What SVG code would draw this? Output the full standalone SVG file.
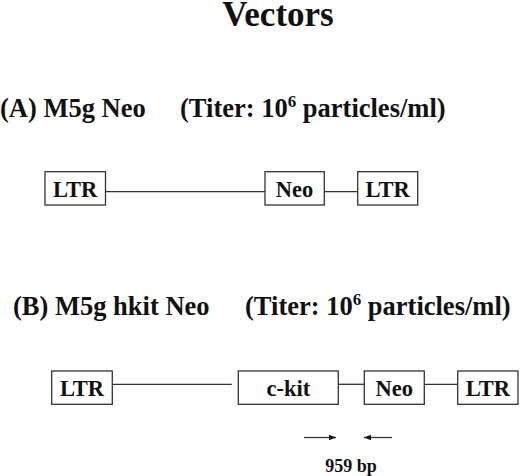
<svg xmlns="http://www.w3.org/2000/svg" width="520" height="476" viewBox="0 0 520 476">
<style>
text{font-family:"Liberation Serif","Times New Roman",serif;font-weight:bold;fill:#111}
.box{fill:#fff;stroke:#333;stroke-width:1.3}
.ln{stroke:#333;stroke-width:1.3;fill:none}
.lbl{font-size:22.5px;text-anchor:middle}
.hd{font-size:26.5px}
</style>
<defs>
<marker id="ah" viewBox="0 0 10 10" refX="10" refY="5" markerWidth="7" markerHeight="7" markerUnits="userSpaceOnUse" orient="auto">
<path d="M0,1 L10,5 L0,9 z" fill="#111"/>
</marker>
</defs>
<text x="278" y="26" font-size="35" text-anchor="middle">Vectors</text>
<text class="hd" x="0" y="117">(A) M5g Neo</text>
<text class="hd" x="180" y="117">(Titer: 10<tspan font-size="17" dy="-10">6</tspan><tspan dy="10"> particles/ml)</tspan></text>
<text class="hd" x="13" y="315">(B) M5g hkit Neo</text>
<text class="hd" x="245" y="315">(Titer: 10<tspan font-size="17" dy="-10">6</tspan><tspan dy="10"> particles/ml)</tspan></text>
<g id="connectors">
<line class="ln" x1="106" y1="191.7" x2="265" y2="191.7"/>
<line class="ln" x1="324" y1="191.7" x2="358" y2="191.7"/>
<line class="ln" x1="112" y1="384.3" x2="231.7" y2="384.3"/>
<line class="ln" x1="338" y1="384.3" x2="364" y2="384.3"/>
<line class="ln" x1="424" y1="384.3" x2="457" y2="384.3"/>
<line class="ln" x1="304" y1="437.5" x2="336" y2="437.5" marker-end="url(#ah)"/>
<line class="ln" x1="392" y1="437.5" x2="364" y2="437.5" marker-end="url(#ah)"/>
</g>
<g id="a-ltr1"><rect class="box" x="45" y="171.7" width="60.5" height="33.3"/><text class="lbl" x="75.2" y="196.5">LTR</text></g>
<g id="a-neo"><rect class="box" x="265" y="171.7" width="59.3" height="33.3"/><text class="lbl" x="294.6" y="196.5">Neo</text></g>
<g id="a-ltr2"><rect class="box" x="357.7" y="171.7" width="60" height="33.3"/><text class="lbl" x="387.7" y="196.5">LTR</text></g>
<g id="b-ltr1"><rect class="box" x="51.7" y="371" width="60.6" height="33.3"/><text class="lbl" x="82" y="395.5">LTR</text></g>
<g id="b-ckit"><rect class="box" x="238.3" y="371" width="100" height="33.3"/><text class="lbl" x="288.3" y="395.5">c-kit</text></g>
<g id="b-neo"><rect class="box" x="364.3" y="371" width="60" height="33.3"/><text class="lbl" x="394.3" y="395.5">Neo</text></g>
<g id="b-ltr2"><rect class="box" x="457.7" y="371" width="60.3" height="33.3"/><text class="lbl" x="487.8" y="395.5">LTR</text></g>
<text x="351" y="471.5" font-size="18" text-anchor="middle">959 bp</text>
</svg>
